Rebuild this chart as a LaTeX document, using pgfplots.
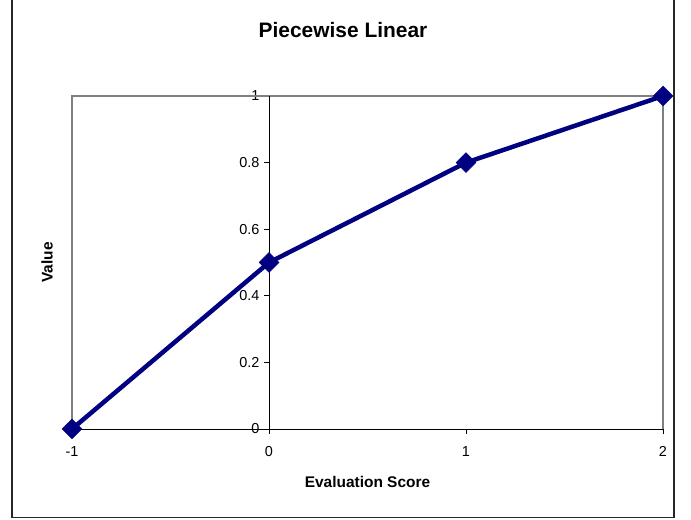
\documentclass[border=0pt]{standalone}
\usepackage{pgfplots}
\pgfplotsset{compat=1.18}
\usepackage{fontspec}
\setmainfont{Liberation Sans}
\definecolor{navyline}{RGB}{0,0,128}
\definecolor{framegray}{RGB}{128,128,128}
\begin{document}
\begin{tikzpicture}[x=1bp,y=1bp]
\path[use as bounding box] (0,0) rectangle (691,520);
\draw[line width=1.3bp, black!85] (12,521) -- (12,2.5) -- (674,2.5) -- (674,521);
\node[font=\fontsize{21}{25}\selectfont\bfseries] at (343,490) {Piecewise Linear};
\node[font=\fontsize{15.5}{18}\selectfont\bfseries] at (367.5,38) {Evaluation Score};
\node[font=\fontsize{15.5}{18}\selectfont\bfseries, rotate=90] at (47,257.5) {Value};
\begin{axis}[
  at={(72bp,91bp)}, anchor=south west,
  scale only axis, width=591bp, height=333bp,
  xmin=-1, xmax=2, ymin=0, ymax=1,
  enlargelimits=false, clip=false,
  axis x line=bottom, axis y line=middle,
  hide obscured x ticks=false, hide obscured y ticks=false,
  axis line style={-, black, line width=0.8bp},
  xtick={-1,0,1,2}, ytick={0,0.2,0.4,0.6,0.8,1},
  tick align=outside, major tick length=5bp,
  tick style={black, line width=0.8bp},
  /pgf/number format/assume math mode=true,
  ticklabel style={font=\fontsize{14.5}{17}\selectfont},
  xticklabel style={yshift=-9bp},
  yticklabel style={xshift=-1bp},
  yticklabels={0,0.2,0.4,0.6,0.8,1},
  xticklabels={-1,0,1,2},
]
\draw[framegray, line width=1.4bp] (axis cs:-1,0) -- (axis cs:-1,1) -- (axis cs:2,1) -- (axis cs:2,0);
\draw[black, line width=0.8bp] (axis cs:-1,0) -- (axis cs:2,0);
\draw[black, line width=0.8bp] (axis cs:0,0) -- (axis cs:0,1);
\addplot[navyline, line width=4.5bp, mark=square*, mark size=7bp,
  mark options={rotate=45, solid, fill=navyline, draw=navyline, line width=0.5bp}]
  coordinates {(-1,0) (0,0.5) (1,0.8) (2,1)};
\end{axis}
\end{tikzpicture}
\end{document}
